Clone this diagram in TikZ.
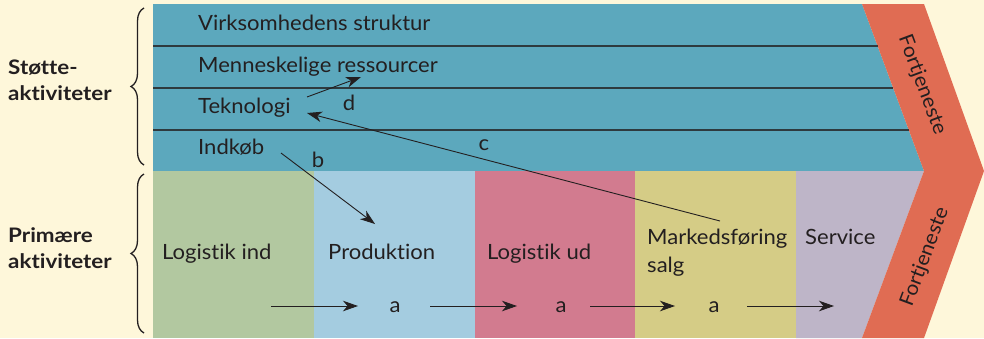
\documentclass[tikz,border=0pt]{standalone}
\usepackage{fontspec}
\setmainfont{Lato}[FakeStretch=1.05, Ligatures={NoCommon,NoContextual}]
\newfontfamily\sidefont{Lato}[FakeStretch=1.12, Ligatures={NoCommon,NoContextual}]
\usetikzlibrary{arrows.meta,decorations.pathreplacing}
\definecolor{cream}{HTML}{FEF7DA}
\definecolor{cteal}{HTML}{5CA8BD}
\definecolor{cred}{HTML}{E06C53}
\definecolor{cgreen}{HTML}{B2C8A0}
\definecolor{cblue}{HTML}{A4CCE0}
\definecolor{cpink}{HTML}{D27B8F}
\definecolor{cyellow}{HTML}{D5CC86}
\definecolor{clav}{HTML}{BEB5C8}
\definecolor{ink}{HTML}{231F20}
\definecolor{sepgray}{HTML}{2E3A3E}
\begin{document}
\begin{tikzpicture}[x=1pt,y=-1pt,
  lbl/.style={font=\fontsize{21}{28}\selectfont, text=ink, anchor=base west, inner sep=0pt},
  alb/.style={font=\fontsize{21}{24}\selectfont, text=ink, anchor=base, inner sep=0pt},
  side/.style={font=\sidefont\fontsize{20}{26}\selectfont\bfseries, text=ink, align=left, anchor=base west, inner sep=0pt},
  arr/.style={-{Stealth[length=15pt,width=10.5pt,inset=4.5pt]}, line width=0.9pt, draw=ink},
  sep/.style={draw=sepgray, line width=1.1pt},
  brc/.style={decorate, decoration={brace, amplitude=13pt, aspect=0.5}, line width=1.3pt, draw=ink},
  fort/.style={font=\fontsize{20}{22}\selectfont, text=ink, inner sep=0pt},
]
\useasboundingbox (0,0) rectangle (984,338);
\fill[cream] (0,0) rectangle (984,338);
% support area
\fill[cteal] (153,4) -- (862,4) -- (924,171) -- (153,171) -- cycle;
% primary columns
\fill[cgreen] (153,171) rectangle (314,338);
\fill[cblue] (314,171) rectangle (475,338);
\fill[cpink] (475,171) rectangle (635,338);
\fill[cyellow] (635,171) rectangle (796,338);
\fill[clav] (796,171) -- (924,171) -- (862,338) -- (796,338) -- cycle;
% profit chevron
\fill[cred] (862,4) -- (924,4) -- (984,171) -- (924,338) -- (862,338) -- (924,171) -- cycle;
% separators
\draw[sep] (153,46) -- (877.6,46);
\draw[sep] (153,88) -- (893.2,88);
\draw[sep] (153,130) -- (908.8,130);
% support labels
\node[lbl] (vs) at (198,30) {Virksomhedens struktur};
\node[lbl] (mr) at (198,72) {Menneskelige ressourcer};
\node[lbl] (tek) at (198,113) {Teknologi};
\node[lbl] (ind) at (198,154) {Indkøb};
% primary labels
\node[lbl] (li) at (162,259) {Logistik ind};
\node[lbl] (pr) at (328,259) {Produktion};
\node[lbl] (lu) at (487,259) {Logistik ud};
\node[lbl, align=left] (ms) at (647,272) {Markedsføring\\salg};
\node[lbl] (sv) at (805,244) {Service};
% side labels
\node[side] (st) at (8,100) {Støtte-\\aktiviteter};
\node[side] (pa) at (8,268) {Primære\\aktiviteter};
% braces
\coordinate (b1s) at (144,165);
\coordinate (b1e) at (144,8);
\coordinate (b2s) at (144,333);
\coordinate (b2e) at (144,174);
\draw[brc] (b1s) -- (b1e);
\draw[brc] (b2s) -- (b2e);
% profit labels
\node[fort, rotate=-69.6] (f1) at (922,85) {Fortjeneste};
\node[fort, rotate=69.6] (f2) at (925,257) {Fortjeneste};
% a chain
\coordinate (a0) at (271,306);
\node[alb] (a1) at (395,312) {a};
\node[alb] (a2) at (561,312) {a};
\node[alb] (a3) at (714,312) {a};
\coordinate (a4) at (834,306);
\coordinate (a1c) at (395,306);
\coordinate (a2c) at (561,306);
\coordinate (a3c) at (714,306);
\draw[arr, shorten >=37pt] (a0) -- (a1c);
\draw[arr, shorten <=35pt, shorten >=44pt] (a1c) -- (a2c);
\draw[arr, shorten <=29pt, shorten >=39pt] (a2c) -- (a3c);
\draw[arr, shorten <=33pt] (a3c) -- (a4);
% b
\coordinate (bS) at (281,153);
\coordinate (bE) at (375,224);
\draw[arr] (bS) -- (bE);
\node[alb] (lb) at (318,167) {b};
% c
\coordinate (cS) at (720,221);
\coordinate (cE) at (307,113);
\draw[arr] (cS) -- (cE);
\node[alb] (lc) at (484,150) {c};
% d
\coordinate (dS) at (307,97);
\coordinate (dE) at (361,77);
\draw[arr] (dS) -- (dE);
\node[alb] (ld) at (349,110) {d};
\end{tikzpicture}
\end{document}
